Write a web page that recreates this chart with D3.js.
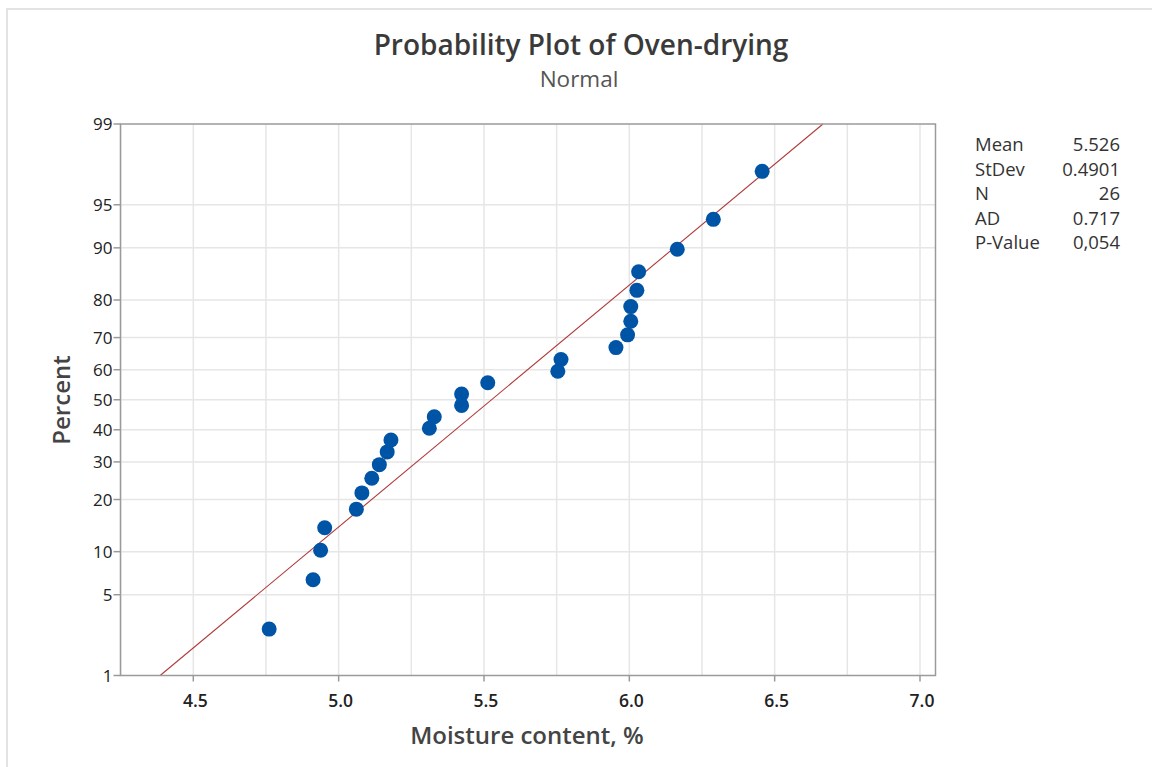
<!DOCTYPE html>
<html><head><meta charset="utf-8">
<script src="https://cdn.jsdelivr.net/npm/d3@7/dist/d3.min.js"></script>
<style>body{margin:0;background:#fff;font-family:"Open Sans","Noto Sans",sans-serif;}</style>
</head><body><svg id="c" width="1152" height="767"></svg>
<script>
// ---- data ----
const moisture = [4.761,4.912,4.938,4.952,5.061,5.080,5.114,5.140,5.167,5.180,5.312,5.329,5.423,5.423,5.513,5.754,5.765,5.954,5.994,6.005,6.005,6.026,6.032,6.165,6.289,6.457];
const percent  = [2.65,6.44,10.2,14.0,17.8,21.6,25.4,29.2,33.0,36.7,40.5,44.3,48.1,51.9,55.7,59.5,63.3,67.0,70.8,74.6,78.4,82.2,86.0,89.8,93.6,97.3];
const yTicks = [1,5,10,20,30,40,50,60,70,80,90,95,99];
const xTicks = [4.5,5.0,5.5,6.0,6.5,7.0];
const xGrid = [4.25,4.5,4.75,5.0,5.25,5.5,5.75,6.0,6.25,6.5,6.75,7.0];
const statLabels = ["Mean","StDev","N","AD","P-Value"];
const statValues = ["5.526","0.4901","26","0.717","0,054"];
const fitMean = 5.526, fitSd = 0.4901;

// inverse normal CDF (Acklam)
function probit(p){
  const a=[-3.969683028665376e+01,2.209460984245205e+02,-2.759285104469687e+02,1.383577518672690e+02,-3.066479806614716e+01,2.506628277459239e+00];
  const b=[-5.447609879822406e+01,1.615858368580409e+02,-1.556989798598866e+02,6.680131188771972e+01,-1.328068155288572e+01];
  const c=[-7.784894002430293e-03,-3.223964580411365e-01,-2.400758277161838e+00,-2.549732539343734e+00,4.374664141464968e+00,2.938163982698783e+00];
  const d=[7.784695709041462e-03,3.224671290700398e-01,2.445134137142996e+00,3.754408661907416e+00];
  const pl=0.02425;
  if(p<pl){const q=Math.sqrt(-2*Math.log(p));return (((((c[0]*q+c[1])*q+c[2])*q+c[3])*q+c[4])*q+c[5])/((((d[0]*q+d[1])*q+d[2])*q+d[3])*q+1);}
  if(p>1-pl){const q=Math.sqrt(-2*Math.log(1-p));return -(((((c[0]*q+c[1])*q+c[2])*q+c[3])*q+c[4])*q+c[5])/((((d[0]*q+d[1])*q+d[2])*q+d[3])*q+1);}
  const q=p-0.5,r=q*q;
  return (((((a[0]*r+a[1])*r+a[2])*r+a[3])*r+a[4])*r+a[5])*q/(((((b[0]*r+b[1])*r+b[2])*r+b[3])*r+b[4])*r+1);
}

const svg = d3.select("#c");
// outer window border
svg.append("path").attr("d","M7,767 V9 H1152").attr("fill","none").attr("stroke","#e3e3e3").attr("stroke-width",2);

const L=120.5, R=935.5, T=124, B=675.5;
const x = d3.scaleLinear().domain([4.5,7.0]).range([193.3,920]);
const zs = d3.scaleLinear().domain([probit(0.01),probit(0.99)]).range([B,T]);
const y = p => zs(probit(p/100));

const g = svg.append("g");
// grid
g.selectAll(".gx").data(xGrid).join("line").attr("x1",d=>x(d)).attr("x2",d=>x(d)).attr("y1",T).attr("y2",B)
  .attr("stroke","#e6e6e6").attr("stroke-width",1.5);
g.selectAll(".gy").data(yTicks.slice(1,-1)).join("line").attr("x1",L).attr("x2",R).attr("y1",d=>y(d)).attr("y2",d=>y(d))
  .attr("stroke","#e6e6e6").attr("stroke-width",1.5);

// fit line
const p0=1, p1=99;
g.append("line").attr("x1",x(fitMean+fitSd*probit(p0/100))).attr("y1",y(p0))
  .attr("x2",x(fitMean+fitSd*probit(p1/100))).attr("y2",y(p1))
  .attr("stroke","#b03a3a").attr("stroke-width",1.1);

// frame
g.append("rect").attr("x",L).attr("y",T).attr("width",R-L).attr("height",B-T).attr("fill","none").attr("stroke","#9a9a9a").attr("stroke-width",1.5);

// points
g.selectAll(".pt").data(moisture).join("circle").attr("cx",d=>x(d)).attr("cy",(d,i)=>y(percent[i])).attr("r",7.5).attr("fill","#0054a6");

// y ticks
const yt = g.selectAll(".yt").data(yTicks).join("g");
yt.append("line").attr("x1",L-7).attr("x2",L).attr("y1",d=>y(d)).attr("y2",d=>y(d)).attr("stroke","#9a9a9a").attr("stroke-width",1.5);
yt.append("text").attr("x",L-8).attr("y",d=>y(d)).attr("dy","0.36em").attr("text-anchor","end")
  .attr("font-size",17).attr("font-weight",500).attr("fill","#222").text(d=>d);
// x ticks
const xt = g.selectAll(".xt").data(xTicks).join("g");
xt.append("line").attr("x1",d=>x(d)).attr("x2",d=>x(d)).attr("y1",B).attr("y2",B+6).attr("stroke","#9a9a9a").attr("stroke-width",1.5);
xt.append("text").attr("x",d=>x(d)+2).attr("y",B+31).attr("text-anchor","middle")
  .attr("font-size",17.5).attr("font-weight",600).attr("fill","#222").text(d=>d3.format(".1f")(d));

// titles
svg.append("text").attr("x",581).attr("y",55).attr("text-anchor","middle").attr("font-size",28).attr("font-weight",600).attr("fill","#3a3a3a").text("Probability Plot of Oven-drying");
svg.append("text").attr("x",579).attr("y",87).attr("text-anchor","middle").attr("font-size",22.5).attr("fill","#555").text("Normal");
svg.append("text").attr("x",527).attr("y",744).attr("text-anchor","middle").attr("font-size",24).attr("font-weight",600).attr("fill","#444").text("Moisture content, %");
svg.append("text").attr("transform","translate(70,400) rotate(-90)").attr("text-anchor","middle").attr("font-size",24).attr("font-weight",600).attr("fill","#444").text("Percent");

// stats table
const st = svg.append("g");
statLabels.forEach((s,i)=>{
  st.append("text").attr("x",975).attr("y",151+i*24.6).attr("font-size",18.5).attr("fill","#333").text(s);
  st.append("text").attr("x",1120).attr("y",151+i*24.6).attr("text-anchor","end").attr("font-size",18.5).attr("fill","#333").text(statValues[i]);
});
</script></body></html>
